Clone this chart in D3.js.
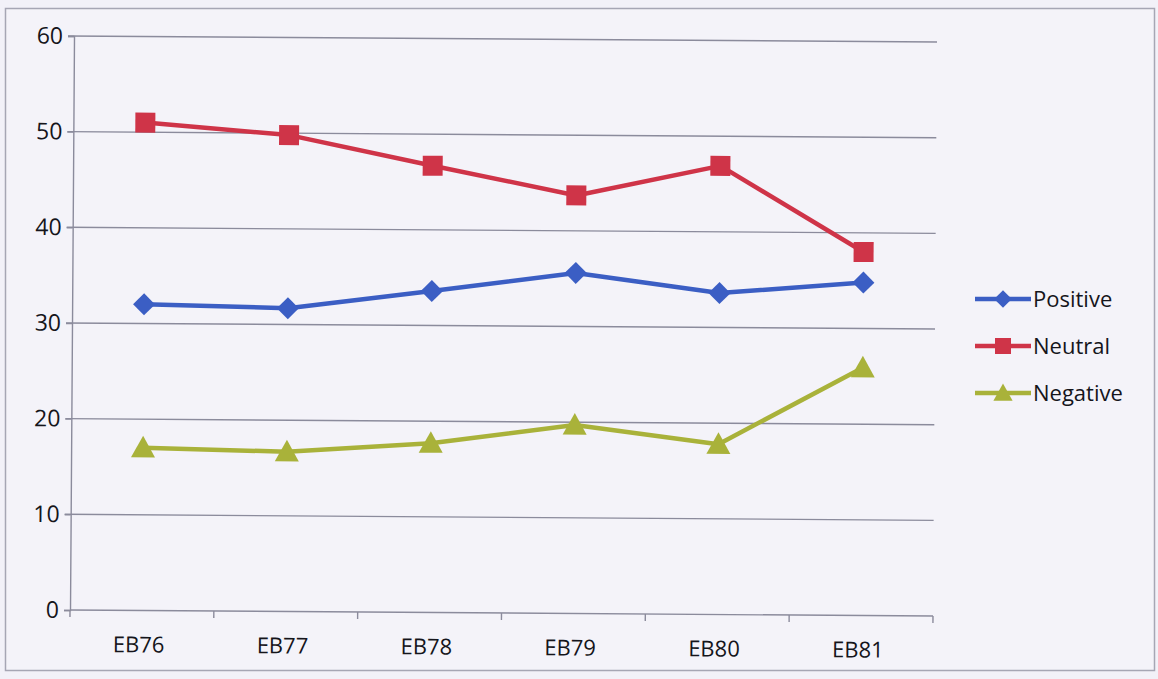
<!DOCTYPE html>
<html>
<head>
<meta charset="utf-8">
<script src="https://cdn.jsdelivr.net/npm/d3@7"></script>
<style>
  html, body { margin: 0; padding: 0; background: #f2f1f8; }
  svg { display: block; }
  text { font-family: "Open Sans", "Liberation Sans", sans-serif; fill: #15151b; }
</style>
</head>
<body>
<svg id="chart" width="1158" height="679"></svg>
<script>
// Survey waves and the share of each tone (%)
const categories = ["EB76", "EB77", "EB78", "EB79", "EB80", "EB81"];
const positive = [32, 31.7, 33.6, 35.6, 33.6, 34.8];
const neutral  = [51, 49.8, 46.7, 43.7, 46.9, 38];
const negative = [17, 16.7, 17.7, 19.7, 17.8, 25.9];
const yTicks = [0, 10, 20, 30, 40, 50, 60];

const series = [
  { name: "Positive", values: positive, color: "#3b5ec4", marker: "diamond" },
  { name: "Neutral",  values: neutral,  color: "#cf3448", marker: "square" },
  { name: "Negative", values: negative, color: "#a9b23a", marker: "triangle" }
];

const svg = d3.select("#chart");

// outer frame
svg.append("rect")
  .attr("x", 5.5).attr("y", 8.5).attr("width", 1149).attr("height", 662)
  .attr("fill", "#f4f3f9").attr("stroke", "#a6a6b4").attr("stroke-width", 1.5);

const plot = { left: 72, right: 935, top: 39, bottom: 613 };

const x = d3.scaleBand().domain(categories).range([plot.left, plot.right]);
const y = d3.scaleLinear().domain([0, 60]).range([plot.bottom, plot.top]);
const cx = c => x(c) + x.bandwidth() / 2;

// the whole plot sits at a very slight tilt
const g = svg.append("g")
  .attr("transform", `rotate(0.4, ${(plot.left + plot.right) / 2}, ${(plot.top + plot.bottom) / 2})`);

// horizontal gridlines
g.append("g")
  .selectAll("line")
  .data(yTicks.filter(t => t > 0))
  .join("line")
  .attr("x1", plot.left - 6).attr("x2", plot.right)
  .attr("y1", d => y(d)).attr("y2", d => y(d))
  .attr("stroke", "#8b8b9c").attr("stroke-width", 1.4);

// y axis
const yAxis = g.append("g")
  .attr("transform", `translate(${plot.left},0)`)
  .call(d3.axisLeft(y).tickValues(yTicks).tickSize(6).tickPadding(5));
yAxis.select(".domain").attr("stroke", "#8b8b9c").attr("stroke-width", 1.4);
yAxis.selectAll(".tick line").attr("stroke", "#8b8b9c").attr("stroke-width", 1.4);
yAxis.selectAll(".tick text")
  .attr("font-size", 23).attr("fill", "#15151b")
  .attr("font-family", "'Open Sans', 'Liberation Sans', sans-serif");

// x axis with ticks on category boundaries
const xAxis = g.append("g").attr("transform", `translate(0,${plot.bottom})`);
xAxis.append("line")
  .attr("x1", plot.left).attr("x2", plot.right)
  .attr("stroke", "#8b8b9c").attr("stroke-width", 1.4);
const bounds = categories.map(c => x(c)).concat([plot.right]);
xAxis.selectAll("line.tk")
  .data(bounds)
  .join("line").attr("class", "tk")
  .attr("x1", d => d).attr("x2", d => d)
  .attr("y1", 0).attr("y2", 7)
  .attr("stroke", "#8b8b9c").attr("stroke-width", 1.4);
xAxis.selectAll("text")
  .data(categories)
  .join("text")
  .attr("x", d => cx(d) - 3).attr("y", 42)
  .attr("text-anchor", "middle")
  .attr("font-size", 22)
  .text(d => d);

// marker shapes
function markerPath(kind, size) {
  const s = size / 2;
  if (kind === "square") return `M${-s},${-s}H${s}V${s}H${-s}Z`;
  if (kind === "diamond") return `M0,${-s}L${s},0L0,${s}L${-s},0Z`;
  // triangle
  return `M0,${-s}L${s},${s * 0.8}L${-s},${s * 0.8}Z`;
}
const markerSize = { square: 20, diamond: 22, triangle: 24 };

const line = d3.line().x(d => cx(d.cat)).y(d => y(d.v));

series.forEach(s => {
  const pts = categories.map((c, i) => ({ cat: c, v: s.values[i] }));
  g.append("path")
    .datum(pts)
    .attr("d", line)
    .attr("fill", "none")
    .attr("stroke", s.color)
    .attr("stroke-width", 4.5)
    .attr("stroke-linejoin", "round");
  g.append("g")
    .selectAll("path")
    .data(pts)
    .join("path")
    .attr("transform", d => `translate(${cx(d.cat)},${y(d.v)})`)
    .attr("d", markerPath(s.marker, markerSize[s.marker]))
    .attr("fill", s.color);
});

// legend
const legend = svg.append("g").attr("transform", "translate(975,299)");
series.forEach((s, i) => {
  const row = legend.append("g").attr("transform", `translate(0,${i * 47})`);
  row.append("line")
    .attr("x1", 0).attr("x2", 56).attr("y1", 0).attr("y2", 0)
    .attr("stroke", s.color).attr("stroke-width", 4.5);
  row.append("path")
    .attr("transform", "translate(28,0)")
    .attr("d", markerPath(s.marker, markerSize[s.marker] * 0.8))
    .attr("fill", s.color);
  row.append("text")
    .attr("x", 58).attr("y", 0).attr("dy", "0.35em")
    .attr("font-size", 22)
    .text(s.name);
});
</script>
</body>
</html>
